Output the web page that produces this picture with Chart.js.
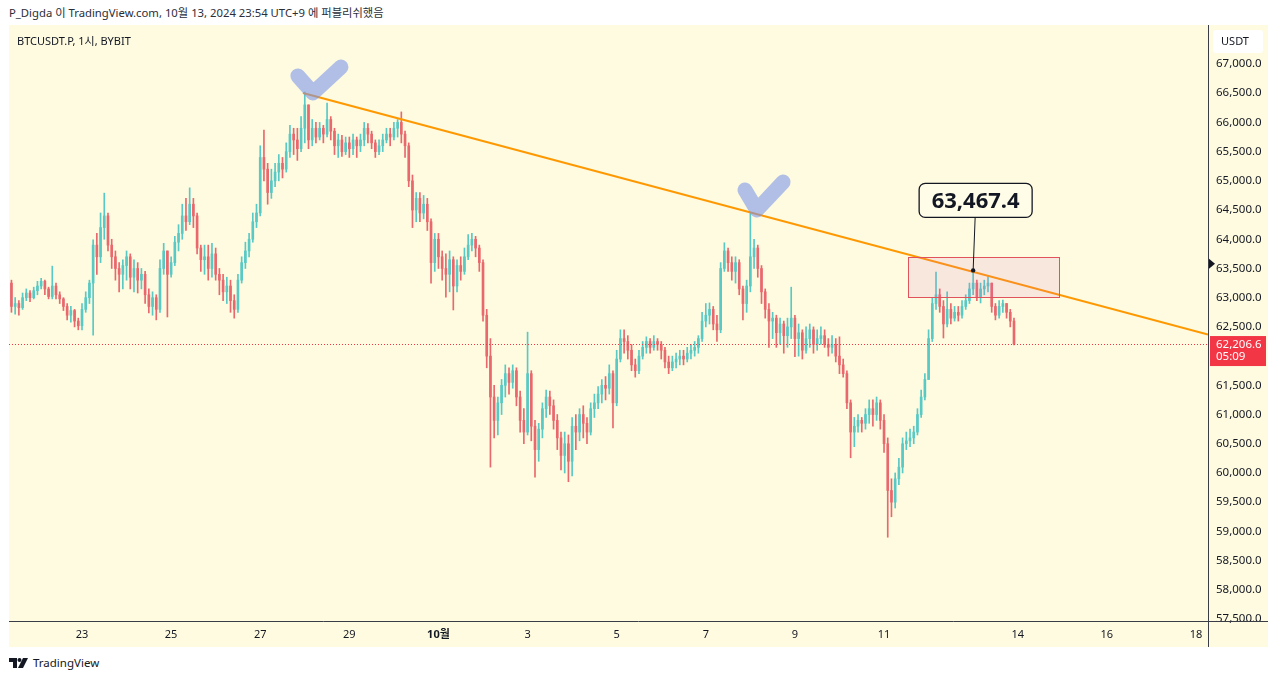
<!DOCTYPE html>
<html>
<head>
<meta charset="utf-8">
<script src="https://cdn.jsdelivr.net/npm/chart.js@4.4.1/dist/chart.umd.min.js"></script>
<style>
  body { margin: 0; width: 1280px; height: 681px; background: #fff; position: relative; overflow: hidden;
         font-family: 'Noto Sans', 'Noto Sans CJK KR', sans-serif; color: #131722; }
  #hdr { position: absolute; left: 9px; top: 4px; font-size: 11.3px; color: #2a2e39; white-space: nowrap; }
  #frame { position: absolute; left: 9px; top: 25px; width: 1259px; height: 622px; background: #fefbe0; }
  #legend { position: absolute; left: 8px; top: 7px; font-size: 11px; white-space: nowrap; z-index: 2; }
  #foot { position: absolute; left: 9px; top: 655px; font-size: 11.5px; display: flex; align-items: center; gap: 5px; }
</style>
</head>
<body>
<div id="hdr">P_Digda 이 TradingView.com, 10월 13, 2024 23:54 UTC+9 에 퍼블리쉬했음</div>
<div id="frame">
  <div id="legend">BTCUSDT.P, 1시, BYBIT</div>
  <canvas id="btcChart"></canvas>
</div>
<div id="foot">
  <svg width="19" height="10" viewBox="0 0 19 10"><path d="M0 0h8v10H4V4H0z" fill="#131722"/><circle cx="10.5" cy="2" r="2" fill="#131722"/><path d="M14 0h5l-5 10h-5z" fill="#131722"/></svg>
  <span>TradingView</span>
</div>
<script>
// 2-hour candles, hours counted from Sep 21 00:00
var startHour = 10;
var stepHours = 2;
var firstOpen = 63250;

var closes = [
  62850, 62900, 62830, 63000, 63080, 63000, 63120,
  63200, 63280, 63150, 63020, 63200, 63050, 62980, 62850, 62700, 62780, 62600, 62520,
  62800, 63000, 63250, 63900, 63700, 64200, 64400, 63900, 63700, 63500, 63400, 63550,
  63700, 63350, 63500, 63300, 63400, 63050, 62850, 63000, 62800, 63500, 63800, 63400,
  63600, 63950, 64100, 64400, 64300, 64600, 64400, 63850, 63650, 63700, 63500, 63750,
  63400, 63300, 63100, 63200, 62950, 62800, 63300, 63600, 63800, 64000, 64300, 64450,
  65400, 65200, 64800, 65000, 65150, 65300, 65200, 65500, 65800, 65700, 65550, 65900,
  66300, 65700, 65900, 65750, 65900, 65800, 66050, 65850, 65600, 65700, 65500, 65650,
  65550, 65700, 65600, 65700, 65900, 65800, 65650, 65500, 65600, 65700, 65800, 65750,
  65900, 66000, 65800, 65600, 65000, 64500, 64700, 64450, 64600, 64300, 63600, 64000,
  63700, 63500, 63400, 63650, 63200, 63550, 63450, 63700, 63900, 64000, 63850, 63600,
  62700, 62000, 61300, 60900, 61200, 61500, 61700, 61550, 61750, 61300, 60900, 60700,
  61700, 60800, 60400, 60750, 61100, 61300, 61150, 60900, 60600, 60300, 60500, 60200,
  60800, 60700, 61000, 60850, 60700, 61100, 61200, 61350, 61500, 61450, 61700, 61200,
  61950, 62300, 62250, 62100, 61850, 61750, 62000, 62150, 62250, 62150, 62250, 62200,
  62100, 61900, 61800, 61900, 61950, 62000, 61950, 62050, 62100, 62150, 62300, 62600,
  62700, 62800, 62550, 62450, 63500, 63800, 63600, 63450, 63600, 63150, 62900, 63200,
  63700, 63850, 63500, 63100, 62800, 62600, 62650, 62400, 62550, 62350, 62500, 62650,
  62300, 62400, 62100, 62300, 62450, 62200, 62300, 62350, 62200, 62150, 62200, 62000,
  61850, 61700, 61200, 60700, 60800, 60900, 60850, 61000, 61100, 61000, 61200, 60900,
  60500, 59700, 59500, 59900, 60100, 60500, 60550, 60600, 60700, 61000, 61300, 61600,
  62300, 62900, 63050, 62850, 62550, 62800, 62650, 62750, 62700, 62850, 62950, 63150,
  63250, 63000, 63150, 63200, 63250, 62850, 62700, 62850, 62900, 62750, 62600, 62206.6
];

var highs = [
  63300, 63000, 62950, 63080, 63150, 63120, 63180,
  63280, 63330, 63300, 63180, 63540, 63250, 63100, 63000, 62900, 62850, 62800, 62650,
  62900, 63100, 63300, 63990, 64100, 64450, 64790, 64450, 64000, 63800, 63600, 63650,
  63800, 63750, 63650, 63600, 63500, 63450, 63150, 63100, 63050, 63650, 63930, 63800,
  63700, 64050, 64250, 64600, 64700, 64880, 64700, 64450, 63900, 63900, 63900, 63930,
  63850, 63500, 63400, 63350, 63300, 63050, 63400, 63700, 63950, 64100, 64450, 64600,
  65600, 65870, 65300, 65200, 65300, 65450, 65400, 65650, 65950, 65900, 65900, 66100,
  66520, 66300, 66050, 66000, 66000, 65950, 66330, 66100, 65900, 65800, 65780, 65750,
  65750, 65800, 65750, 65800, 66000, 65980, 65850, 65700, 65700, 65800, 65900, 65900,
  66000, 66050, 66180, 65850, 65650, 65100, 64800, 64800, 64750, 64700, 64350, 64100,
  64100, 63800, 63750, 63800, 63700, 63650, 63700, 63850, 64080, 64100, 64050, 63900,
  63650, 62800, 62300, 61500, 61300, 61600, 61850, 61800, 61850, 61800, 61400, 61100,
  62410, 61750, 60900, 60850, 61200, 61420, 61400, 61250, 61000, 60700, 60700, 60650,
  60950, 61000, 61100, 61150, 60950, 61200, 61350, 61480, 61600, 61650, 61850, 61750,
  62100, 62450, 62450, 62350, 62200, 61950, 62100, 62250, 62330, 62300, 62350, 62300,
  62250, 62150, 62000, 62000, 62050, 62100, 62100, 62150, 62200, 62250, 62350, 62750,
  62900, 62910, 62850, 62700, 63600, 63940, 63850, 63700, 63700, 63650, 63200, 63300,
  64450, 64000, 63900, 63550, 63150, 62900, 62750, 62700, 62650, 62600, 62650, 63180,
  62700, 62550, 62450, 62500, 62550, 62500, 62450, 62500, 62450, 62300, 62350, 62300,
  62330, 61950, 61750, 61250, 60950, 61000, 60950, 61100, 61250, 61250, 61300, 61250,
  61000, 60600, 59900, 60000, 60250, 60600, 60700, 60750, 60800, 61100, 61420, 61700,
  62450, 63000, 63440, 63150, 62950, 63100, 62900, 62850, 62850, 62950, 63050, 63250,
  63467.4, 63300, 63250, 63300, 63360, 63250, 62900, 62950, 62960, 62900, 62800, 62650
];

var lows = [
  62750, 62720, 62700, 62800, 62950, 62930, 62980,
  63050, 63150, 63050, 62980, 62980, 62980, 62900, 62780, 62620, 62580, 62500, 62450,
  62450, 62750, 62900, 62360, 63400, 63600, 64000, 63800, 63500, 63300, 63100, 63150,
  63300, 63150, 63100, 63080, 63150, 62900, 62740, 62700, 62620, 62750, 63400, 62670,
  63350, 63550, 63800, 64000, 64150, 64250, 64200, 63750, 63450, 63400, 63300, 63350,
  63300, 63050, 62950, 62900, 62750, 62650, 62750, 63250, 63500, 63700, 63950, 64200,
  64400, 65000, 64600, 64700, 64900, 65000, 65050, 65150, 65400, 65450, 65350, 65500,
  65650, 65550, 65600, 65650, 65700, 65650, 65750, 65700, 65450, 65400, 65420, 65450,
  65400, 65450, 65400, 65500, 65600, 65650, 65550, 65400, 65450, 65500, 65650, 65600,
  65700, 65750, 65650, 65400, 64900, 64200, 64300, 64300, 64350, 64150, 63250, 63450,
  63500, 63300, 63010, 63100, 62790, 63100, 63300, 63400, 63650, 63800, 63700, 63450,
  62600, 61800, 60100, 60600, 60650, 61000, 61300, 61350, 61450, 61150, 60700, 60500,
  60650, 60550, 59930, 60200, 60600, 60950, 61000, 60750, 60400, 60050, 60000, 59850,
  59950, 60400, 60550, 60600, 60500, 60650, 60950, 61100, 61200, 61250, 61350, 60770,
  61150, 61900, 62050, 61950, 61750, 61640, 61700, 61950, 62050, 62050, 62100, 62100,
  61950, 61800, 61700, 61750, 61800, 61850, 61850, 61900, 61950, 62000, 62050, 62250,
  62500, 62550, 62450, 62250, 62400, 63450, 63450, 63300, 63250, 63050, 62620, 62750,
  63100, 63500, 63350, 62900, 62650, 62150, 62300, 62150, 62200, 62050, 62150, 62300,
  61990, 62000, 61950, 62050, 62150, 62050, 62100, 62200, 62150, 62000, 62050, 61900,
  61700, 61640, 61100, 60260, 60450, 60700, 60700, 60750, 60850, 60800, 60900, 60750,
  60350, 58900, 59250, 59400, 59800, 60000, 60400, 60450, 60500, 60650, 60950, 61250,
  61600, 62250, 62800, 62750, 62310, 62500, 62550, 62600, 62600, 62650, 62800, 62900,
  63050, 62950, 62910, 63050, 63100, 62750, 62620, 62650, 62750, 62650, 62500, 62190
];

// axis ticks
var dayTickHours = [48, 96, 144, 192, 240, 288, 336, 384, 432, 480, 552, 600, 648];
var dayTickLabels = ["23", "25", "27", "29", "10월", "3", "5", "7", "9", "11", "14", "16", "18"];
var priceTicks = [57500, 58000, 58500, 59000, 59500, 60000, 60500, 61000, 61500, 62000,
                  62500, 63000, 63500, 64000, 64500, 65000, 65500, 66000, 66500, 67000];

// drawings on the chart (hour, price)
var trendLine = [{ x: 167, y: 66504 }, { x: 654.5, y: 62370 }];
var zoneBox = { x0: 492.9, x1: 574.2, y0: 63012, y1: 63697 };
var callout = { x: 528, y: 63467.4, text: "63,467.4" };
var checkMarks = [
  [[164.3, 66795], [172.4, 66504], [187.5, 66949]],
  [[405.1, 64843], [411.5, 64501], [425.6, 64980]]
];
var lastPrice = 62206.6;
var countdown = "05:09";

var upColor = "#58c9c4";
var downColor = "#e8686d";

var wicks = [], bodies = [], colors = [];
for (var i = 0; i < closes.length; i++) {
  var h = startHour + i * stepHours;
  var o = i === 0 ? firstOpen : closes[i - 1];
  var c = closes[i];
  var hi = Math.max(highs[i], o, c);
  var lo = Math.min(lows[i], o, c);
  wicks.push({ x: h, y: [lo, hi] });
  bodies.push({ x: h, y: [Math.min(o, c), Math.max(o, c)] });
  colors.push(c >= o ? upColor : downColor);
}

var fmt = function (v, d) {
  return v.toLocaleString("en-US", { minimumFractionDigits: d, maximumFractionDigits: d });
};

var drawings = {
  id: "drawings",
  afterDatasetsDraw: function (chart) {
    var ctx = chart.ctx, a = chart.chartArea, x = chart.scales.x, y = chart.scales.y;
    ctx.save();
    ctx.beginPath();
    ctx.rect(a.left, a.top, a.right - a.left, a.bottom - a.top);
    ctx.clip();

    // last price line
    var py = Math.round(y.getPixelForValue(lastPrice)) + 0.5;
    ctx.strokeStyle = "#f23645";
    ctx.lineWidth = 1;
    ctx.setLineDash([1, 2]);
    ctx.beginPath();
    ctx.moveTo(a.left, py);
    ctx.lineTo(a.right, py);
    ctx.stroke();
    ctx.setLineDash([]);

    // zone rectangle
    var rx0 = x.getPixelForValue(zoneBox.x0), rx1 = x.getPixelForValue(zoneBox.x1);
    var ry0 = y.getPixelForValue(zoneBox.y1), ry1 = y.getPixelForValue(zoneBox.y0);
    ctx.fillStyle = "rgba(205, 100, 200, 0.13)";
    ctx.fillRect(rx0, ry0, rx1 - rx0, ry1 - ry0);
    ctx.strokeStyle = "#e0525c";
    ctx.strokeRect(Math.round(rx0) + 0.5, Math.round(ry0) + 0.5, Math.round(rx1 - rx0), Math.round(ry1 - ry0));

    // callout
    var cx = x.getPixelForValue(callout.x), cy = y.getPixelForValue(callout.y);
    var bw = 113, bh = 34, bx = cx + 2.5 - bw / 2, by = cy - 53 - bh;
    ctx.strokeStyle = "#131722";
    ctx.lineWidth = 1;
    ctx.beginPath();
    ctx.moveTo(cx + 2, by + bh);
    ctx.lineTo(cx, cy);
    ctx.stroke();
    ctx.fillStyle = "#131722";
    ctx.beginPath();
    ctx.arc(cx, cy, 2.2, 0, Math.PI * 2);
    ctx.fill();
    ctx.fillStyle = "#fffce8";
    ctx.lineWidth = 1.3;
    ctx.beginPath();
    ctx.roundRect(bx, by, bw, bh, 6);
    ctx.fill();
    ctx.stroke();
    ctx.fillStyle = "#131722";
    ctx.font = "bold 22px 'Noto Sans', sans-serif";
    ctx.textAlign = "center";
    ctx.textBaseline = "middle";
    ctx.fillText(callout.text, bx + bw / 2, by + bh / 2 + 1);

    // check marks
    ctx.strokeStyle = "rgba(120, 146, 234, 0.58)";
    ctx.lineWidth = 15;
    ctx.lineCap = "round";
    ctx.lineJoin = "round";
    checkMarks.forEach(function (m) {
      ctx.beginPath();
      m.forEach(function (p, k) {
        var px = x.getPixelForValue(p[0]), pyy = y.getPixelForValue(p[1]);
        if (k === 0) ctx.moveTo(px, pyy); else ctx.lineTo(px, pyy);
      });
      ctx.stroke();
    });
    ctx.restore();
  },
  afterDraw: function (chart) {
    var ctx = chart.ctx, a = chart.chartArea, y = chart.scales.y;
    var W = chart.width, H = chart.height;
    ctx.save();
    // axis borders
    ctx.strokeStyle = "#3a3d45";
    ctx.lineWidth = 1;
    ctx.beginPath();
    ctx.moveTo(0, a.bottom + 0.5);
    ctx.lineTo(W, a.bottom + 0.5);
    ctx.moveTo(a.right + 0.5, 0);
    ctx.lineTo(a.right + 0.5, H);
    ctx.stroke();

    // currency box
    ctx.fillStyle = "#ffffff";
    ctx.beginPath();
    ctx.roundRect(a.right + 5, 5, 50, 23, 3);
    ctx.fill();
    ctx.fillStyle = "#131722";
    ctx.font = "11px 'Noto Sans', sans-serif";
    ctx.textAlign = "center";
    ctx.textBaseline = "middle";
    ctx.fillText("USDT", a.right + 27, 16.5);

    // marker triangle
    var ty = y.getPixelForValue(63580);
    ctx.beginPath();
    ctx.moveTo(a.right + 1, ty - 5);
    ctx.lineTo(a.right + 7, ty);
    ctx.lineTo(a.right + 1, ty + 5);
    ctx.closePath();
    ctx.fill();

    // last price label
    var py = y.getPixelForValue(lastPrice);
    ctx.fillStyle = "#f23645";
    ctx.fillRect(a.right + 2, py - 8, 56, 30);
    ctx.fillStyle = "#ffffff";
    ctx.textAlign = "left";
    ctx.font = "11.5px 'Noto Sans', sans-serif";
    ctx.fillText(fmt(lastPrice, 1), a.right + 8, py + 1);
    ctx.fillText(countdown, a.right + 8, py + 13);
    ctx.restore();
  }
};

Chart.defaults.font.family = "'Noto Sans', 'Noto Sans CJK KR', sans-serif";
Chart.defaults.font.size = 11;
Chart.defaults.color = "#131722";

new Chart(document.getElementById("btcChart"), {
  type: "bar",
  data: {
    datasets: [
      {
        label: "wick",
        data: wicks,
        backgroundColor: colors,
        barThickness: 1,
        grouped: false,
        order: 3,
      },
      {
        label: "body",
        data: bodies,
        backgroundColor: colors,
        barThickness: 2,
        grouped: false,
        order: 2,
      },
      {
        type: "line",
        label: "trend",
        data: trendLine,
        borderColor: "#ff9800",
        borderWidth: 2,
        pointRadius: 0,
        order: 1,
      },
    ],
  },
  options: {
    responsive: true,
    maintainAspectRatio: false,
    animation: false,
    layout: { padding: 0 },
    plugins: {
      legend: { display: false },
      tooltip: { enabled: false },
    },
    scales: {
      x: {
        type: "linear",
        min: 8.68,
        max: 654.5,
        offset: false,
        grid: { display: false, drawTicks: false },
        border: { display: false },
        afterBuildTicks: function (scale) {
          scale.ticks = dayTickHours.map(function (v) { return { value: v }; });
        },
        afterFit: function (scale) {
          scale.height = 26;
          scale.paddingLeft = 0;
          scale.paddingRight = 0;
        },
        ticks: {
          autoSkip: false,
          maxRotation: 0,
          padding: 7,
          color: "#131722",
          font: function (c) {
            return { weight: c.tick && c.tick.value === 240 ? "bold" : "normal" };
          },
          callback: function (v) {
            return dayTickLabels[dayTickHours.indexOf(v)];
          },
        },
      },
      y: {
        position: "right",
        min: 57466,
        max: 67667.6,
        grid: { display: false, drawTicks: false },
        border: { display: false },
        afterBuildTicks: function (scale) {
          scale.ticks = priceTicks.map(function (v) { return { value: v }; });
        },
        afterFit: function (scale) {
          scale.width = 60;
          scale.paddingTop = 0;
          scale.paddingBottom = 0;
        },
        ticks: {
          padding: 8,
          color: "#131722",
          font: { size: 11.5 },
          callback: function (v) { return fmt(v, 1); },
        },
      },
    },
  },
  plugins: [drawings],
});
</script>
</body>
</html>
